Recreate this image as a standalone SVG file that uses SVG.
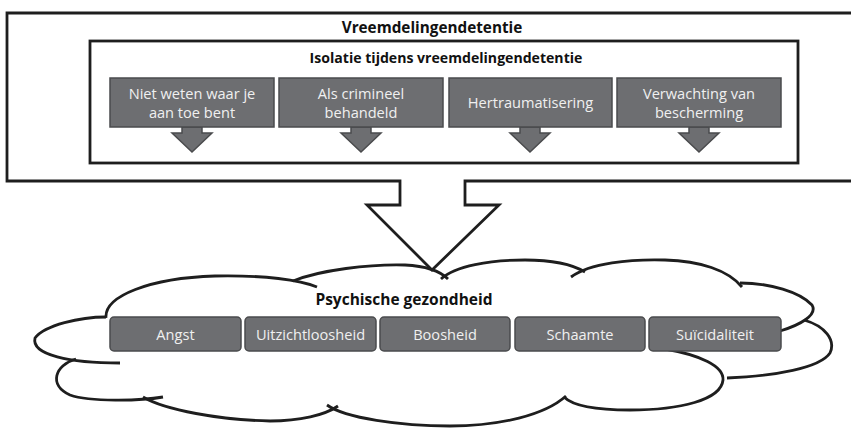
<svg xmlns="http://www.w3.org/2000/svg" width="851" height="428" viewBox="0 0 851 428">
<style>
.line{fill:none;stroke:#1e1e1e;stroke-width:2.8;stroke-linejoin:miter}
.box{fill:#6d6e71;stroke:#4a4b4d;stroke-width:1.5}
.lbl{font-family:"Open Sans","Liberation Sans",sans-serif;font-size:14.6px;fill:#f0f0f0;text-anchor:middle}
.ttl{font-family:"Open Sans","Liberation Sans",sans-serif;font-weight:bold;fill:#111;text-anchor:middle}
</style>
<rect width="851" height="428" fill="#fff"/>
<g id="cloud" class="line">
<path d="M106,318 C104,296 150,278 215,276 C265,275 300,280 317,287"/>
<path d="M293,281 C320,270 370,264 405,265 C425,266 440,271 448,279"/>
<path d="M441,279 C455,266 490,260 525,260 C555,260 575,266 585,272"/>
<path d="M571,277 C590,263 630,259 665,260 C700,261 728,270 742,287"/>
<path d="M740,283 C770,283 800,292 812,305 C818,315 800,325 780,331"/>
<path d="M804,320 C825,326 836,340 830,353 C820,368 775,376 727,378"/>
<path d="M665,349 C700,355 724,366 723,380 C721,400 680,410 630,410 C595,410 572,405 564,397"/>
<path d="M327,405 C345,418 400,426 450,426 C500,426 545,415 566,396"/>
<path d="M143,397 C165,410 220,420 270,421 C300,421 325,415 338,406"/>
<path d="M76,359 C55,365 48,385 70,395 C90,402 140,401 163,397"/>
<path d="M106,317 C80,317 45,325 35,338 C31,355 70,363 120,363"/>
</g>
<g id="callout">
<path class="line" style="fill:#fff" d="M7,13 L860,13 L860,181 L465,181 L465,205 L499,205 L432,270 L367,205 L400,205 L400,181 L7,181 Z"/>
<text class="ttl" x="432" y="33" font-size="15.3">Vreemdelingendetentie</text>
</g>
<g id="isolatie">
<rect class="line" x="90" y="41" width="708" height="122"/>
<text class="ttl" x="446" y="63" font-size="14.1">Isolatie tijdens vreemdelingendetentie</text>
</g>
<g id="connectors">
<polygon class="box" points="182,127 202,127 202,133 212,133 192,152 172,133 182,133"/>
<polygon class="box" points="351,127 371,127 371,133 381,133 361,152 341,133 351,133"/>
<polygon class="box" points="520,127 540,127 540,133 550,133 530,152 510,133 520,133"/>
<polygon class="box" points="689,127 709,127 709,133 719,133 699,152 679,133 689,133"/>
</g>
<g id="n1"><rect class="box" x="110" y="78" width="164" height="49"/><text class="lbl" x="192" y="99">Niet weten waar je</text><text class="lbl" x="192" y="118">aan toe bent</text></g>
<g id="n2"><rect class="box" x="279" y="78" width="164" height="49"/><text class="lbl" x="361" y="99">Als crimineel</text><text class="lbl" x="361" y="118">behandeld</text></g>
<g id="n3"><rect class="box" x="449" y="78" width="163" height="49"/><text class="lbl" x="530.5" y="108">Hertraumatisering</text></g>
<g id="n4"><rect class="box" x="617" y="78" width="164" height="49"/><text class="lbl" x="699" y="99">Verwachting van</text><text class="lbl" x="699" y="118">bescherming</text></g>
<g id="psych">
<text class="ttl" x="404" y="305" font-size="15.5">Psychische gezondheid</text>
</g>
<g id="b1"><rect class="box" x="110" y="317" width="131" height="34" rx="4"/><text class="lbl" x="175.5" y="339.5">Angst</text></g>
<g id="b2"><rect class="box" x="245" y="317" width="131" height="34" rx="4"/><text class="lbl" x="310.5" y="339.5">Uitzichtloosheid</text></g>
<g id="b3"><rect class="box" x="380" y="317" width="130" height="34" rx="4"/><text class="lbl" x="445" y="339.5">Boosheid</text></g>
<g id="b4"><rect class="box" x="515" y="317" width="130" height="34" rx="4"/><text class="lbl" x="580" y="339.5">Schaamte</text></g>
<g id="b5"><rect class="box" x="649" y="317" width="132" height="34" rx="4"/><text class="lbl" x="715" y="339.5">Suïcidaliteit</text></g>
</svg>
